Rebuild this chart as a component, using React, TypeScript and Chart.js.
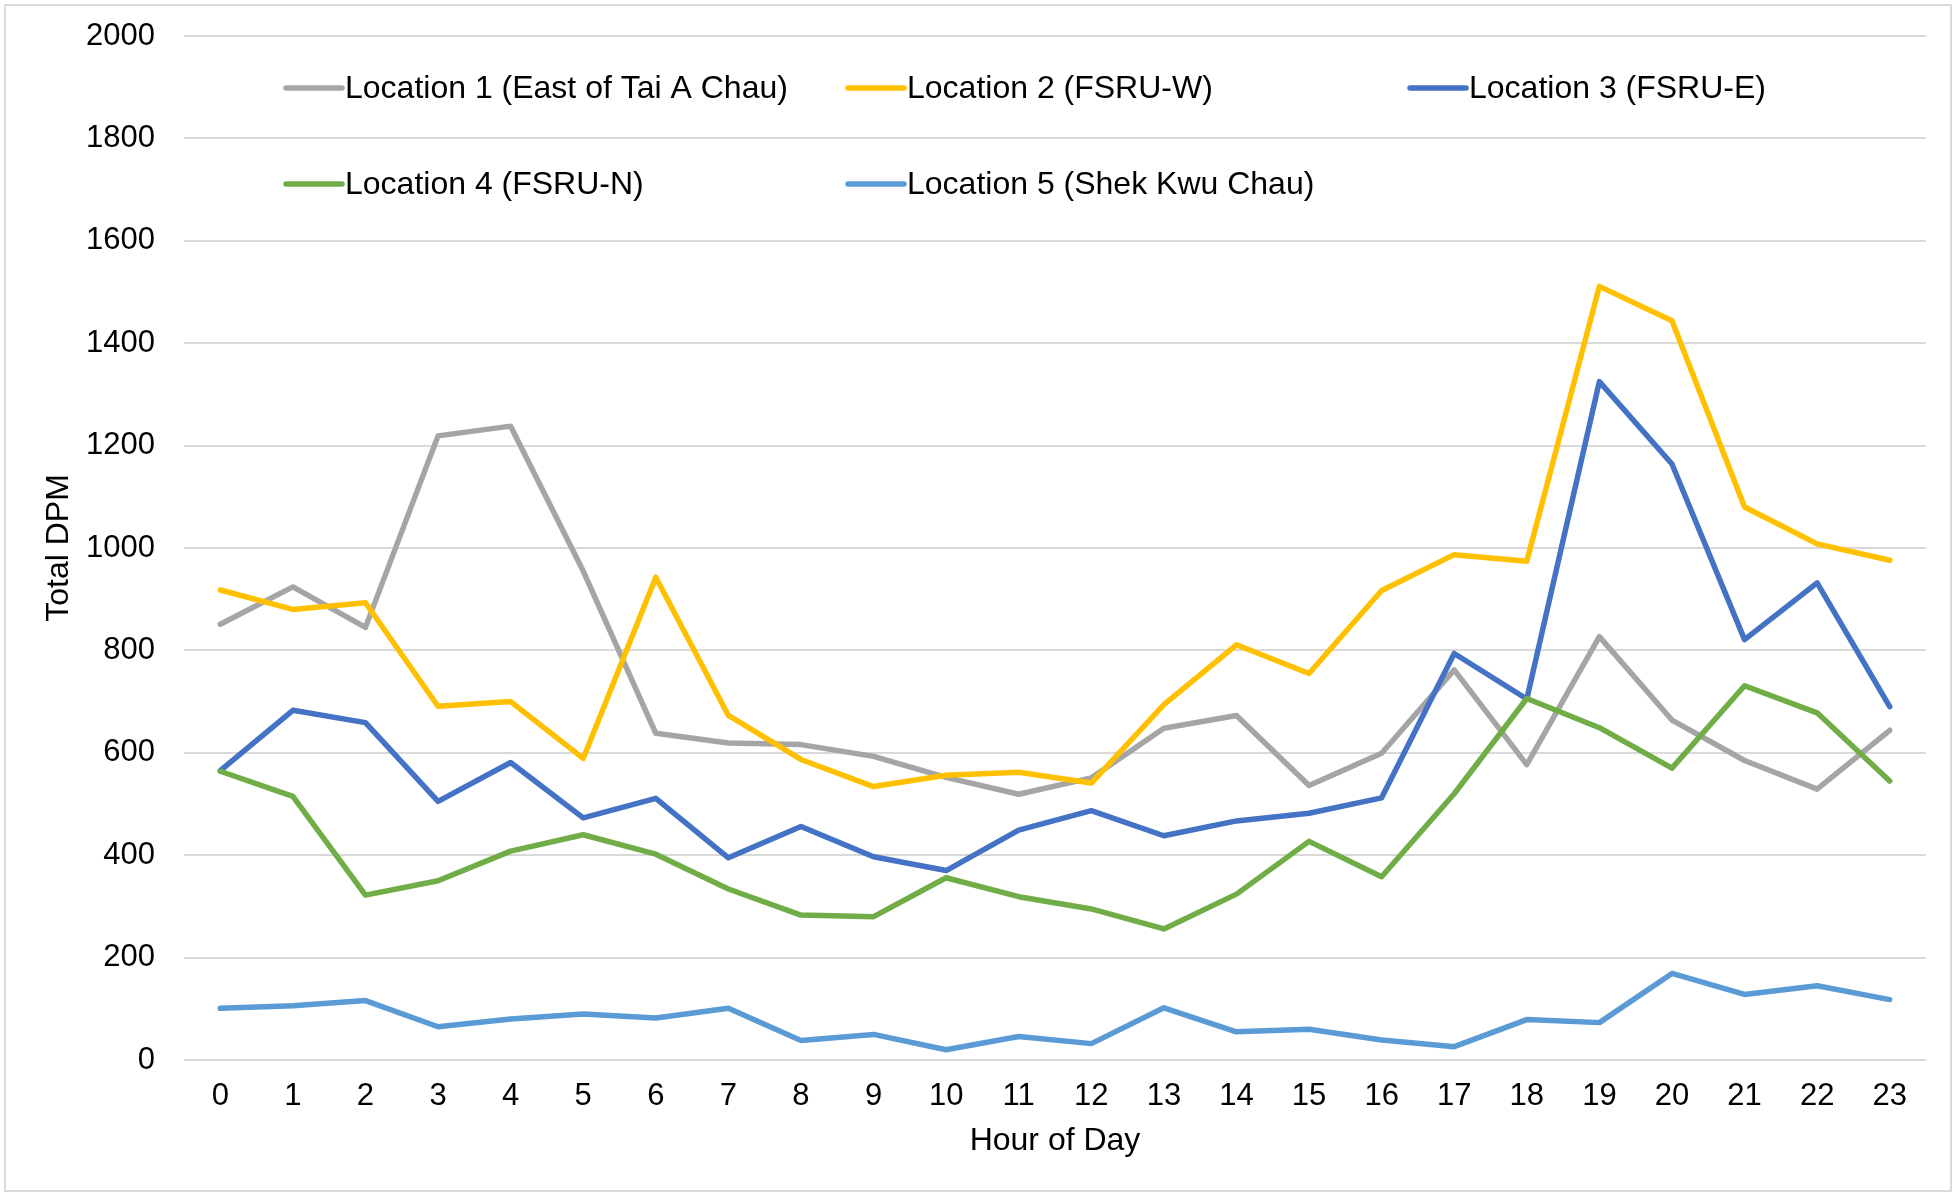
import React, { useEffect, useRef } from "react";
import { Chart, registerables } from "chart.js";

Chart.register(...registerables);

const hours = ["0","1","2","3","4","5","6","7","8","9","10","11","12","13","14","15","16","17","18","19","20","21","22","23"];

const seriesLabels = [
  "Location 1 (East of Tai A Chau)",
  "Location 2 (FSRU-W)",
  "Location 3 (FSRU-E)",
  "Location 4 (FSRU-N)",
  "Location 5 (Shek Kwu Chau)",
];

const seriesColors = ["#A5A5A5", "#FFC000", "#4472C4", "#70AD47", "#5B9BD5"];

const location1 = [851, 924, 845, 1219, 1238, 955, 638, 619, 616, 593, 552, 519, 551, 648, 673, 536, 599, 762, 577, 827, 664, 585, 529, 644];
const location2 = [918, 880, 893, 691, 700, 589, 943, 673, 587, 534, 556, 562, 541, 694, 811, 755, 917, 987, 974, 1511, 1444, 1080, 1008, 976];
const location3 = [565, 683, 659, 505, 581, 473, 511, 395, 456, 397, 370, 449, 487, 438, 467, 482, 512, 794, 705, 1325, 1164, 821, 932, 690];
const location4 = [564, 515, 322, 350, 408, 440, 402, 334, 283, 280, 356, 319, 295, 256, 324, 427, 358, 520, 706, 649, 570, 731, 678, 545];
const location5 = [101, 106, 116, 65, 80, 90, 82, 101, 38, 50, 20, 46, 32, 102, 55, 60, 39, 26, 79, 73, 169, 128, 145, 118];

const seriesValues = [location1, location2, location3, location4, location5];

const yTitle = "Total DPM";
const xTitle = "Hour of Day";

const FONT = "'Liberation Sans', Arial, sans-serif";
const W = 1955;
const H = 1192;

export default function App() {
  const ref = useRef<HTMLCanvasElement | null>(null);

  useEffect(() => {
    const canvas = ref.current;
    if (!canvas) return;

    const framePlugin = {
      id: "frame",
      afterDraw(chart: any) {
        const ctx = chart.ctx;
        ctx.save();
        ctx.strokeStyle = "#d9d9d9";
        ctx.lineWidth = 2;
        ctx.strokeRect(5, 5, W - 9, H - 6);
        ctx.restore();
      },
    };

    const legendPlugin = {
      id: "insideLegend",
      afterDraw(chart: any) {
        const ctx = chart.ctx;
        const area = chart.chartArea;
        const x0 = area.left + 102;
        const colStep = 562;
        const rowY = [area.top + 52, area.top + 148];
        const lineLen = 56;
        ctx.save();
        ctx.font = `32px ${FONT}`;
        ctx.textBaseline = "middle";
        ctx.textAlign = "left";
        chart.data.datasets.forEach((ds: any, i: number) => {
          const col = i % 3;
          const row = Math.floor(i / 3);
          const x = x0 + col * colStep;
          const y = rowY[row];
          ctx.strokeStyle = ds.borderColor;
          ctx.lineWidth = 5.5;
          ctx.lineCap = "round";
          ctx.beginPath();
          ctx.moveTo(x, y);
          ctx.lineTo(x + lineLen, y);
          ctx.stroke();
          ctx.fillStyle = "#000000";
          ctx.fillText(ds.label, x + lineLen + 3, y + 1);
        });
        ctx.restore();
      },
    };

    const chart = new Chart(canvas, {
      type: "line",
      data: {
        labels: hours,
        datasets: seriesValues.map((vals, i) => ({
          label: seriesLabels[i],
          data: vals,
          borderColor: seriesColors[i],
          backgroundColor: seriesColors[i],
          borderWidth: 5.5,
          pointRadius: 0,
          pointHoverRadius: 0,
          tension: 0,
          fill: false,
          borderCapStyle: "round" as const,
          borderJoinStyle: "round" as const,
          order: seriesValues.length - i,
        })),
      },
      options: {
        responsive: false,
        animation: false,
        devicePixelRatio: 1,
        layout: { padding: { left: 20, right: 29, top: 36, bottom: 20 } },
        plugins: {
          legend: { display: false },
          tooltip: { enabled: false },
          title: { display: false },
        },
        scales: {
          x: {
            type: "category",
            offset: true,
            grid: { display: false, drawTicks: false },
            border: { display: false },
            ticks: {
              color: "#000000",
              font: { family: FONT, size: 31 },
              padding: 18,
              maxRotation: 0,
              autoSkip: false,
            },
            title: {
              display: true,
              text: xTitle,
              color: "#000000",
              font: { family: FONT, size: 32 },
              padding: { top: 0, bottom: 12 },
            },
            afterFit(scale: any) {
              scale.height = 112;
            },
          },
          y: {
            type: "linear",
            min: 0,
            max: 2000,
            grid: { color: "#d9d9d9", lineWidth: 2, drawTicks: false },
            border: { display: false },
            ticks: {
              stepSize: 200,
              color: "#000000",
              font: { family: FONT, size: 31 },
              padding: 29,
              callback: (v: any) => String(v),
            },
            title: {
              display: true,
              text: yTitle,
              color: "#000000",
              font: { family: FONT, size: 32 },
              padding: { top: 20, bottom: 0 },
            },
            afterFit(scale: any) {
              scale.width = 164;
              scale.paddingTop = 0;
              scale.paddingBottom = 0;
            },
          },
        },
      },
      plugins: [framePlugin, legendPlugin],
    });

    return () => {
      chart.destroy();
    };
  }, []);

  return (
    <div style={{ position: "absolute", left: 0, top: 0, width: W, height: H, background: "#ffffff" }}>
      <canvas ref={ref} width={W} height={H} style={{ display: "block", width: W, height: H }} />
    </div>
  );
}
